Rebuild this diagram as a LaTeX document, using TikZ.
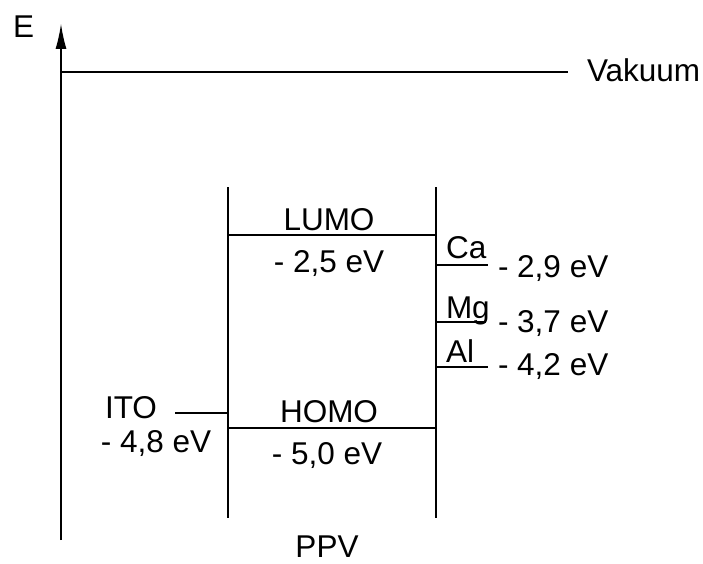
\documentclass[tikz,border=0pt]{standalone}
\usepackage{fontspec}
\setmainfont{Liberation Sans}
\usetikzlibrary{arrows.meta}
\begin{document}
\begin{tikzpicture}[x=1pt,y=-1pt,
  lbl/.style={inner sep=0pt,outer sep=0pt,font=\fontsize{31.5}{37}\selectfont},
  lvl/.style={line width=1.2pt}]
\useasboundingbox (0,0) rectangle (703,564);
% coordinates
\coordinate (axB) at (61,540);
\coordinate (axT) at (61,24);
\coordinate (vacL) at (61,72);
\coordinate (vacR) at (568,72);
\coordinate (bLt) at (228,187);
\coordinate (bLb) at (228,518);
\coordinate (bRt) at (436,187);
\coordinate (bRb) at (436,518);
\coordinate (lumoL) at (228,235);
\coordinate (lumoR) at (436,235);
\coordinate (homoL) at (228,428);
\coordinate (homoR) at (436,428);
\coordinate (itoL) at (175,413);
\coordinate (itoR) at (228,413);
\coordinate (caL) at (436,265);
\coordinate (caR) at (488,265);
\coordinate (mgL) at (436,322);
\coordinate (mgR) at (486,322);
\coordinate (alL) at (436,367);
\coordinate (alR) at (488,367);
% lines
\draw[lvl,-{Latex[length=25pt,width=11pt]}] (axB) -- (axT);
\draw[lvl] (vacL) -- (vacR);
\draw[lvl] (bLt) -- (bLb);
\draw[lvl] (bRt) -- (bRb);
\draw[lvl] (lumoL) -- (lumoR);
\draw[lvl] (homoL) -- (homoR);
\draw[lvl] (itoL) -- (itoR);
\draw[lvl] (caL) -- (caR);
\draw[lvl] (mgL) -- (mgR);
\draw[lvl] (alL) -- (alR);
% labels
\node[lbl,anchor=base west] (E) at (13,38) {E};
\node[lbl,anchor=base west] (vak) at (587,82) {Vakuum};
\node[lbl,anchor=base] (lumo) at (329,230) {LUMO};
\node[lbl,anchor=base] (lumoE) at (329,272) {- 2,5 eV};
\node[lbl,anchor=base] (homo) at (329,422) {HOMO};
\node[lbl,anchor=base] (homoE) at (327,464) {- 5,0 eV};
\node[lbl,anchor=base] (ito) at (131,418) {ITO};
\node[lbl,anchor=base] (itoE) at (156,452) {- 4,8 eV};
\node[lbl,anchor=base west] (ca) at (446,258) {Ca};
\node[lbl,anchor=base west] (caE) at (498,277) {- 2,9 eV};
\node[lbl,anchor=base west] (mg) at (446,318) {Mg};
\node[lbl,anchor=base west] (mgE) at (498,332) {- 3,7 eV};
\node[lbl,anchor=base west] (al) at (446,362) {Al};
\node[lbl,anchor=base west] (alE) at (498,375) {- 4,2 eV};
\node[lbl,anchor=base] (ppv) at (327,557) {PPV};
\end{tikzpicture}
\end{document}
